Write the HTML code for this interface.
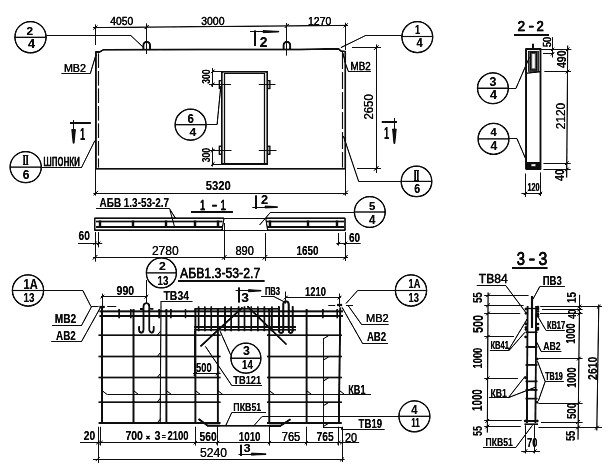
<!DOCTYPE html>
<html lang="ru"><head><meta charset="utf-8"><title>АБВ1.3-53-2.7</title>
<style>
html,body{margin:0;padding:0;background:#fff;}
body{width:614px;height:464px;overflow:hidden;}
svg{display:block;filter:grayscale(1);}
svg line,svg polyline,svg path,svg circle,svg rect{stroke:#111;stroke-linecap:butt;}
svg text{font-family:"Liberation Sans",sans-serif;fill:#111;stroke:#111;stroke-linejoin:round;}
</style></head><body>
<svg width="614" height="464" viewBox="0 0 614 464">
<defs><filter id="soft" x="0" y="0" width="614" height="464" filterUnits="userSpaceOnUse"><feGaussianBlur stdDeviation="0.42"/><feComponentTransfer><feFuncA type="linear" slope="1.35" intercept="0"/></feComponentTransfer></filter></defs>
<rect x="0" y="0" width="614" height="464" fill="#fff" stroke="none" style="stroke:none"/>
<g filter="url(#soft)">
<g id="elevation">
<line x1="93.0" y1="27.6" x2="348.0" y2="25.4" stroke-width="1.0"/>
<line x1="93.5" y1="29.6" x2="97.5" y2="25.6" stroke-width="1.0"/>
<line x1="144.6" y1="29.1" x2="148.6" y2="25.1" stroke-width="1.0"/>
<line x1="284.8" y1="27.9" x2="288.8" y2="23.9" stroke-width="1.0"/>
<line x1="343.6" y1="27.4" x2="347.6" y2="23.4" stroke-width="1.0"/>
<line x1="95.5" y1="24.5" x2="95.5" y2="45.0" stroke-width="1.0"/>
<line x1="146.5" y1="23.5" x2="146.5" y2="54.0" stroke-width="1.0"/>
<line x1="286.5" y1="23.0" x2="286.5" y2="55.5" stroke-width="1.0"/>
<line x1="345.5" y1="22.8" x2="345.5" y2="50.0" stroke-width="1.0"/>
<text x="110.3" y="25.4" font-size="11.7" textLength="23.0" lengthAdjust="spacingAndGlyphs" font-weight="normal" stroke-width="0.27">4050</text>
<text x="201.2" y="25.0" font-size="11.7" textLength="23.3" lengthAdjust="spacingAndGlyphs" font-weight="normal" stroke-width="0.26">3000</text>
<text x="308.0" y="24.6" font-size="11.6" textLength="23.4" lengthAdjust="spacingAndGlyphs" font-weight="normal" stroke-width="0.25">1270</text>
<polyline points="95.9,169.0 95.9,52.1 99.5,52.1 103.5,49.7 200.0,49.6 300.0,49.6 338.4,48.7 341.0,51.0 345.3,51.6 345.3,168.6" stroke-width="1.5" fill="none"/>
<line x1="95.0" y1="168.7" x2="346.0" y2="168.7" stroke-width="1.4"/>
<line x1="98.5" y1="53.6" x2="98.5" y2="167.5" stroke-width="1.1" stroke-dasharray="14.5 3"/>
<line x1="342.5" y1="52.0" x2="342.5" y2="167.5" stroke-width="1.1" stroke-dasharray="17 3"/>
<path d="M143.4,50 V45.3 A3.3,3.4 0 0 1 150.0,45.3 V50" stroke-width="1.7" fill="none"/>
<path d="M283.6,50 V45.3 A3.3,3.4 0 0 1 290.2,45.3 V50" stroke-width="1.7" fill="none"/>
<polyline points="221.8,164.0 221.8,71.7 267.3,71.7 267.3,164.0" stroke-width="1.4" fill="none"/>
<polyline points="224.5,164.0 224.5,73.5 264.5,73.5 264.5,164.0" stroke-width="1.2" fill="none"/>
<line x1="221.2" y1="164.0" x2="268.0" y2="164.0" stroke-width="1.4"/>
<rect x="219.3" y="80.6" width="2.2" height="8.0" stroke-width="1.1" fill="none"/>
<rect x="267.7" y="80.6" width="2.2" height="8.0" stroke-width="1.1" fill="none"/>
<rect x="219.3" y="146.2" width="2.2" height="8.0" stroke-width="1.1" fill="none"/>
<rect x="267.7" y="146.2" width="2.2" height="8.0" stroke-width="1.1" fill="none"/>
<line x1="209.0" y1="84.5" x2="231.0" y2="84.5" stroke-width="0.8"/>
<line x1="258.8" y1="84.5" x2="275.5" y2="84.5" stroke-width="0.8"/>
<line x1="209.0" y1="150.5" x2="231.5" y2="150.5" stroke-width="0.8"/>
<line x1="258.8" y1="150.5" x2="276.5" y2="150.5" stroke-width="0.8"/>
<line x1="212.5" y1="68.0" x2="212.5" y2="87.0" stroke-width="0.9"/>
<line x1="212.0" y1="71.5" x2="221.5" y2="71.5" stroke-width="0.8"/>
<line x1="211.1" y1="73.1" x2="214.5" y2="69.7" stroke-width="1.0"/>
<line x1="211.1" y1="86.2" x2="214.5" y2="82.8" stroke-width="1.0"/>
<text transform="translate(210.1,83.8) rotate(-90)" font-size="11.7" textLength="14.3" lengthAdjust="spacingAndGlyphs" font-weight="bold" stroke-width="0.00">300</text>
<line x1="212.5" y1="147.5" x2="212.5" y2="166.5" stroke-width="0.9"/>
<line x1="212.0" y1="164.5" x2="221.5" y2="164.5" stroke-width="0.8"/>
<line x1="211.1" y1="152.3" x2="214.5" y2="148.9" stroke-width="1.0"/>
<line x1="211.1" y1="165.7" x2="214.5" y2="162.3" stroke-width="1.0"/>
<text transform="translate(210.1,162.3) rotate(-90)" font-size="11.7" textLength="14.3" lengthAdjust="spacingAndGlyphs" font-weight="bold" stroke-width="0.00">300</text>
<line x1="95.5" y1="169.0" x2="95.5" y2="195.5" stroke-width="1.0"/>
<line x1="345.5" y1="169.0" x2="345.5" y2="195.5" stroke-width="1.0"/>
<line x1="93.5" y1="193.5" x2="348.0" y2="193.5" stroke-width="1.0"/>
<line x1="93.6" y1="195.3" x2="98.0" y2="190.9" stroke-width="1.0"/>
<line x1="343.4" y1="195.1" x2="347.8" y2="190.7" stroke-width="1.0"/>
<text x="205.7" y="190.3" font-size="13.4" textLength="25.1" lengthAdjust="spacingAndGlyphs" font-weight="bold" stroke-width="0.00">5320</text>
<line x1="376.5" y1="44.5" x2="376.5" y2="172.8" stroke-width="1.0"/>
<line x1="352.0" y1="47.5" x2="381.0" y2="47.5" stroke-width="0.9"/>
<line x1="357.0" y1="168.5" x2="381.0" y2="168.5" stroke-width="0.9"/>
<line x1="374.1" y1="49.8" x2="378.5" y2="45.4" stroke-width="1.0"/>
<line x1="374.1" y1="170.6" x2="378.5" y2="166.2" stroke-width="1.0"/>
<text transform="translate(372.9,119.6) rotate(-90)" font-size="12.6" textLength="25.4" lengthAdjust="spacingAndGlyphs" font-weight="normal" stroke-width="0.17">2650</text>
<line x1="70.2" y1="123.0" x2="90.7" y2="123.0" stroke-width="1.9"/>
<line x1="73.5" y1="120.2" x2="73.5" y2="130.5" stroke-width="1.0"/>
<path d="M71.7,129.5 L75.5,129.5 L74.1,143.2 L73.1,143.2 Z" stroke-width="0.5" fill="#111"/>
<text x="79.9" y="139.7" font-size="17.3" textLength="5.2" lengthAdjust="spacingAndGlyphs" font-weight="bold" stroke-width="0.00">1</text>
<line x1="381.8" y1="122.0" x2="397.0" y2="122.0" stroke-width="1.9"/>
<line x1="394.5" y1="118.2" x2="394.5" y2="130.0" stroke-width="1.0"/>
<path d="M392.5,129.0 L396.3,129.0 L394.9,143.5 L393.9,143.5 Z" stroke-width="0.5" fill="#111"/>
<text x="383.9" y="138.8" font-size="16.6" textLength="5.1" lengthAdjust="spacingAndGlyphs" font-weight="bold" stroke-width="0.00">1</text>
<line x1="255.0" y1="30.4" x2="255.0" y2="45.8" stroke-width="2.0"/>
<line x1="250.2" y1="31.5" x2="264.0" y2="31.5" stroke-width="0.9"/>
<path d="M263.0,30.5 L278.9,31.3 L278.9,32.0 L263.0,32.7 Z" stroke-width="0.5" fill="#111"/>
<text x="259.8" y="46.8" font-size="15.4" textLength="7.7" lengthAdjust="spacingAndGlyphs" font-weight="bold" stroke-width="0.00">2</text>
<circle cx="30.5" cy="37.2" r="15.6" stroke-width="1.25" fill="none"/>
<line x1="14.9" y1="37.2" x2="46.1" y2="37.2" stroke-width="1.1"/>
<text x="26.5" y="34.6" font-size="10.7" textLength="6.6" lengthAdjust="spacingAndGlyphs" font-weight="bold" stroke-width="0.00">2</text>
<text x="28.0" y="47.8" font-size="12.1" textLength="7.0" lengthAdjust="spacingAndGlyphs" font-weight="bold" stroke-width="0.00">4</text>
<polyline points="46.0,35.5 130.8,35.5 142.8,46.9" stroke-width="1.0" fill="none"/>
<circle cx="417.3" cy="37.1" r="15.4" stroke-width="1.25" fill="none"/>
<line x1="401.9" y1="36.5" x2="432.7" y2="36.5" stroke-width="1.1"/>
<text x="415.1" y="33.7" font-size="12.1" textLength="5.1" lengthAdjust="spacingAndGlyphs" font-weight="bold" stroke-width="0.00">1</text>
<text x="416.6" y="47.3" font-size="12.4" textLength="6.2" lengthAdjust="spacingAndGlyphs" font-weight="bold" stroke-width="0.00">4</text>
<polyline points="402.0,35.5 365.6,35.5 340.9,47.6" stroke-width="1.0" fill="none"/>
<circle cx="25.7" cy="167.1" r="15.6" stroke-width="1.25" fill="none"/>
<line x1="10.1" y1="167.1" x2="41.3" y2="167.1" stroke-width="1.1"/>
<text x="22.7" y="164.6" font-size="13.3" textLength="5.9" lengthAdjust="spacingAndGlyphs" font-weight="bold" stroke-width="0.00">II</text>
<text x="22.8" y="178.8" font-size="12.9" textLength="6.7" lengthAdjust="spacingAndGlyphs" font-weight="bold" stroke-width="0.00">6</text>
<line x1="22.9" y1="155.5" x2="28.3" y2="155.5" stroke-width="0.9"/>
<line x1="22.9" y1="164.5" x2="28.3" y2="164.5" stroke-width="0.9"/>
<polyline points="41.3,167.5 81.5,167.5 94.9,140.6" stroke-width="1.0" fill="none"/>
<text x="43.2" y="165.7" font-size="15.6" textLength="36.8" lengthAdjust="spacingAndGlyphs" font-weight="normal" stroke-width="0.35">шпонки</text>
<circle cx="416.5" cy="181.4" r="15.3" stroke-width="1.25" fill="none"/>
<line x1="401.2" y1="181.4" x2="431.8" y2="181.4" stroke-width="1.1"/>
<text x="413.8" y="179.7" font-size="13.0" textLength="5.4" lengthAdjust="spacingAndGlyphs" font-weight="bold" stroke-width="0.00">II</text>
<text x="414.2" y="192.6" font-size="12.9" textLength="5.9" lengthAdjust="spacingAndGlyphs" font-weight="bold" stroke-width="0.00">6</text>
<line x1="414.0" y1="170.5" x2="419.0" y2="170.5" stroke-width="0.9"/>
<line x1="414.0" y1="180.5" x2="419.0" y2="180.5" stroke-width="0.9"/>
<polyline points="401.2,181.5 358.7,181.5 343.4,136.0" stroke-width="1.0" fill="none"/>
<circle cx="190.6" cy="124.7" r="15.5" stroke-width="1.25" fill="none"/>
<line x1="175.1" y1="124.7" x2="206.1" y2="124.7" stroke-width="1.1"/>
<text x="187.5" y="122.7" font-size="12.9" textLength="6.4" lengthAdjust="spacingAndGlyphs" font-weight="bold" stroke-width="0.00">6</text>
<text x="189.4" y="136.2" font-size="11.7" textLength="6.8" lengthAdjust="spacingAndGlyphs" font-weight="bold" stroke-width="0.00">4</text>
<polyline points="206.0,124.5 217.1,124.5 220.8,86.0" stroke-width="1.0" fill="none"/>
<text x="63.9" y="71.5" font-size="11.1" textLength="22.1" lengthAdjust="spacingAndGlyphs" font-weight="normal" stroke-width="0.23">МВ2</text>
<polyline points="61.5,73.5 90.3,73.5 96.2,54.0" stroke-width="1.0" fill="none"/>
<text x="350.5" y="69.7" font-size="10.4" textLength="20.1" lengthAdjust="spacingAndGlyphs" font-weight="normal" stroke-width="0.32">МВ2</text>
<polyline points="370.8,71.5 348.4,71.5 345.6,64.0 342.9,53.0" stroke-width="1.0" fill="none"/>
</g>
<g id="sec11">
<text x="99.6" y="207.2" font-size="13.4" textLength="69.5" lengthAdjust="spacingAndGlyphs" font-weight="bold" stroke-width="0.00">АБВ 1.3-53-2.7</text>
<polyline points="96.0,208.5 169.4,208.5 175.7,218.7" stroke-width="1.0" fill="none"/>
<polyline points="170.0,210.3 174.5,226.7" stroke-width="0.8" fill="none"/>
<text y="209.5" font-size="15.0" font-weight="normal" stroke-width="0.6"><tspan x="199.9" textLength="5.3" lengthAdjust="spacingAndGlyphs">1</tspan> <tspan x="211.7" textLength="5.5" lengthAdjust="spacingAndGlyphs">-</tspan> <tspan x="220.4" textLength="5.4" lengthAdjust="spacingAndGlyphs">1</tspan></text>
<line x1="191.1" y1="212.0" x2="232.7" y2="212.0" stroke-width="2.1"/>
<line x1="256.0" y1="195.4" x2="256.0" y2="208.8" stroke-width="2.0"/>
<text x="260.9" y="204.0" font-size="11.9" textLength="7.1" lengthAdjust="spacingAndGlyphs" font-weight="bold" stroke-width="0.00">2</text>
<line x1="252.4" y1="207.5" x2="266.0" y2="207.5" stroke-width="0.9"/>
<path d="M265.0,205.9 L277.5,206.7 L277.5,207.4 L265.0,208.1 Z" stroke-width="0.5" fill="#111"/>
<line x1="94.5" y1="218.2" x2="224.0" y2="218.2" stroke-width="1.5"/>
<line x1="94.5" y1="230.2" x2="223.0" y2="230.2" stroke-width="1.5"/>
<line x1="266.0" y1="218.2" x2="345.2" y2="218.2" stroke-width="1.5"/>
<line x1="267.0" y1="230.2" x2="345.2" y2="230.2" stroke-width="1.5"/>
<line x1="223.0" y1="218.5" x2="267.0" y2="218.5" stroke-width="1.0"/>
<line x1="223.0" y1="230.5" x2="267.0" y2="230.5" stroke-width="1.0"/>
<line x1="94.7" y1="218.2" x2="94.7" y2="230.2" stroke-width="1.3"/>
<line x1="345.0" y1="218.2" x2="345.0" y2="230.2" stroke-width="1.3"/>
<line x1="96.0" y1="221.5" x2="222.5" y2="221.5" stroke-width="1.5"/>
<line x1="96.0" y1="227.0" x2="222.5" y2="227.0" stroke-width="1.5"/>
<line x1="267.0" y1="221.5" x2="344.0" y2="221.5" stroke-width="1.5"/>
<line x1="267.0" y1="227.0" x2="344.0" y2="227.0" stroke-width="1.5"/>
<line x1="100.0" y1="220.6" x2="100.0" y2="228.0" stroke-width="2.3"/>
<line x1="133.0" y1="220.6" x2="133.0" y2="228.0" stroke-width="2.3"/>
<line x1="166.0" y1="220.6" x2="166.0" y2="228.0" stroke-width="2.3"/>
<line x1="195.0" y1="220.6" x2="195.0" y2="228.0" stroke-width="2.3"/>
<line x1="218.0" y1="220.6" x2="218.0" y2="228.0" stroke-width="2.3"/>
<line x1="270.0" y1="220.6" x2="270.0" y2="228.0" stroke-width="2.3"/>
<line x1="308.0" y1="220.6" x2="308.0" y2="228.0" stroke-width="2.3"/>
<line x1="337.0" y1="220.6" x2="337.0" y2="228.0" stroke-width="2.3"/>
<line x1="224.0" y1="218.5" x2="222.0" y2="230.0" stroke-width="1.0"/>
<line x1="265.8" y1="218.5" x2="267.6" y2="230.0" stroke-width="1.0"/>
<circle cx="369.8" cy="212.0" r="15.4" stroke-width="1.25" fill="none"/>
<line x1="354.4" y1="212.0" x2="385.2" y2="212.0" stroke-width="1.1"/>
<text x="369.1" y="209.7" font-size="11.6" textLength="6.3" lengthAdjust="spacingAndGlyphs" font-weight="bold" stroke-width="0.00">5</text>
<text x="369.1" y="224.0" font-size="12.7" textLength="6.4" lengthAdjust="spacingAndGlyphs" font-weight="bold" stroke-width="0.00">4</text>
<polyline points="354.4,212.5 270.3,212.5 259.6,225.0" stroke-width="1.0" fill="none"/>
<line x1="78.0" y1="243.5" x2="102.2" y2="243.5" stroke-width="0.9"/>
<line x1="95.5" y1="232.0" x2="95.5" y2="261.5" stroke-width="1.0"/>
<line x1="98.5" y1="232.0" x2="98.5" y2="247.3" stroke-width="0.9"/>
<line x1="93.5" y1="244.8" x2="96.7" y2="241.6" stroke-width="1.0"/>
<line x1="97.1" y1="244.8" x2="100.3" y2="241.6" stroke-width="1.0"/>
<text x="78.5" y="240.2" font-size="12.1" textLength="11.3" lengthAdjust="spacingAndGlyphs" font-weight="bold" stroke-width="0.00">60</text>
<line x1="93.3" y1="257.5" x2="348.0" y2="257.5" stroke-width="1.0"/>
<line x1="224.5" y1="223.0" x2="224.5" y2="260.0" stroke-width="0.9"/>
<line x1="265.5" y1="233.0" x2="265.5" y2="260.8" stroke-width="0.9"/>
<line x1="92.9" y1="259.5" x2="97.3" y2="255.1" stroke-width="1.0"/>
<line x1="222.1" y1="259.5" x2="226.5" y2="255.1" stroke-width="1.0"/>
<line x1="262.8" y1="259.5" x2="267.2" y2="255.1" stroke-width="1.0"/>
<line x1="343.2" y1="259.5" x2="347.6" y2="255.1" stroke-width="1.0"/>
<text x="151.9" y="255.4" font-size="12.1" textLength="26.8" lengthAdjust="spacingAndGlyphs" font-weight="normal" stroke-width="0.12">2780</text>
<text x="235.4" y="255.3" font-size="12.0" textLength="18.4" lengthAdjust="spacingAndGlyphs" font-weight="normal" stroke-width="0.21">890</text>
<text x="296.5" y="255.3" font-size="12.0" textLength="22.0" lengthAdjust="spacingAndGlyphs" font-weight="bold" stroke-width="0.00">1650</text>
<line x1="336.4" y1="243.5" x2="360.6" y2="243.5" stroke-width="0.9"/>
<line x1="338.5" y1="233.0" x2="338.5" y2="245.5" stroke-width="0.9"/>
<line x1="345.5" y1="232.0" x2="345.5" y2="260.8" stroke-width="1.0"/>
<line x1="337.0" y1="245.0" x2="340.2" y2="241.8" stroke-width="1.0"/>
<line x1="343.8" y1="245.0" x2="347.0" y2="241.8" stroke-width="1.0"/>
<text x="349.0" y="242.4" font-size="12.0" textLength="11.2" lengthAdjust="spacingAndGlyphs" font-weight="bold" stroke-width="0.00">60</text>
</g>
<g id="plan">
<line x1="99.5" y1="311.3" x2="343.0" y2="311.3" stroke-width="1.7"/>
<line x1="99.5" y1="316.2" x2="343.0" y2="316.2" stroke-width="1.7"/>
<line x1="98.6" y1="335.3" x2="220.5" y2="335.3" stroke-width="1.5"/>
<line x1="267.0" y1="335.3" x2="341.8" y2="335.3" stroke-width="1.5"/>
<line x1="98.6" y1="356.6" x2="220.5" y2="356.6" stroke-width="1.5"/>
<line x1="267.0" y1="356.6" x2="341.8" y2="356.6" stroke-width="1.5"/>
<line x1="98.6" y1="377.5" x2="220.5" y2="377.5" stroke-width="1.5"/>
<line x1="267.0" y1="377.5" x2="341.8" y2="377.5" stroke-width="1.5"/>
<line x1="98.6" y1="402.2" x2="220.5" y2="402.2" stroke-width="1.5"/>
<line x1="267.0" y1="402.2" x2="341.8" y2="402.2" stroke-width="1.5"/>
<line x1="98.6" y1="423.0" x2="220.5" y2="423.0" stroke-width="1.5"/>
<line x1="267.0" y1="423.0" x2="341.8" y2="423.0" stroke-width="1.5"/>
<line x1="102.1" y1="307.4" x2="102.1" y2="424.0" stroke-width="1.7"/>
<line x1="133.5" y1="309.0" x2="133.5" y2="424.0" stroke-width="1.7"/>
<line x1="166.4" y1="309.0" x2="166.4" y2="424.0" stroke-width="1.7"/>
<line x1="195.4" y1="309.0" x2="195.4" y2="424.0" stroke-width="1.7"/>
<line x1="217.8" y1="309.0" x2="217.8" y2="424.0" stroke-width="1.7"/>
<line x1="269.3" y1="309.0" x2="269.3" y2="424.0" stroke-width="1.7"/>
<line x1="306.6" y1="309.0" x2="306.6" y2="424.0" stroke-width="1.7"/>
<line x1="340.3" y1="307.4" x2="338.8" y2="424.0" stroke-width="1.7"/>
<line x1="119.1" y1="309.0" x2="119.1" y2="318.2" stroke-width="1.3"/>
<line x1="130.8" y1="309.0" x2="130.8" y2="318.2" stroke-width="1.3"/>
<line x1="159.1" y1="309.0" x2="159.1" y2="318.2" stroke-width="1.3"/>
<line x1="170.9" y1="309.0" x2="170.9" y2="318.2" stroke-width="1.3"/>
<line x1="185.5" y1="309.0" x2="185.5" y2="318.2" stroke-width="1.3"/>
<line x1="322.9" y1="309.0" x2="322.9" y2="318.2" stroke-width="1.3"/>
<line x1="337.2" y1="309.0" x2="337.2" y2="318.2" stroke-width="1.3"/>
<line x1="198.6" y1="306.4" x2="198.6" y2="331.2" stroke-width="1.5"/>
<line x1="204.8" y1="306.4" x2="204.8" y2="331.2" stroke-width="1.5"/>
<line x1="211.3" y1="306.4" x2="211.3" y2="331.2" stroke-width="1.5"/>
<line x1="225.0" y1="306.4" x2="225.0" y2="331.2" stroke-width="1.5"/>
<line x1="231.2" y1="306.4" x2="231.2" y2="331.2" stroke-width="1.5"/>
<line x1="238.6" y1="306.4" x2="238.6" y2="331.2" stroke-width="1.5"/>
<line x1="244.5" y1="306.4" x2="244.5" y2="331.2" stroke-width="1.5"/>
<line x1="251.3" y1="306.4" x2="251.3" y2="331.2" stroke-width="1.5"/>
<line x1="257.8" y1="306.4" x2="257.8" y2="331.2" stroke-width="1.5"/>
<line x1="264.4" y1="306.4" x2="264.4" y2="331.2" stroke-width="1.5"/>
<line x1="271.9" y1="306.4" x2="271.9" y2="331.2" stroke-width="1.5"/>
<line x1="194.3" y1="308.9" x2="279.0" y2="308.9" stroke-width="1.4"/>
<line x1="194.3" y1="326.9" x2="296.0" y2="326.9" stroke-width="1.5"/>
<line x1="194.3" y1="329.8" x2="296.0" y2="329.8" stroke-width="1.4"/>
<line x1="200.5" y1="346.4" x2="242.5" y2="307.4" stroke-width="1.5"/>
<line x1="247.4" y1="306.4" x2="286.5" y2="344.5" stroke-width="1.5"/>
<path d="M143.5,329.6 V306.3 A2.9,3 0 0 1 149.3,306.3 V329.6" stroke-width="1.6" fill="none"/>
<path d="M143.5,329.4 A2.2,3.2 0 0 1 139.1,329.4 V326.3" stroke-width="1.6" fill="none"/>
<path d="M149.3,329.4 A2.2,3.2 0 0 0 153.7,329.4 V326.3" stroke-width="1.6" fill="none"/>
<line x1="140.0" y1="309.0" x2="143.0" y2="309.0" stroke-width="1.6"/>
<line x1="150.3" y1="308.8" x2="153.3" y2="308.8" stroke-width="1.6"/>
<path d="M283.3,330.2 V304.4 A2.7,3 0 0 1 288.7,304.4 V330.2" stroke-width="1.8" fill="none"/>
<path d="M283.3,330 A2.2,3 0 0 1 278.9,330 V306.2" stroke-width="1.7" fill="none"/>
<path d="M288.7,330 A2.0,3 0 0 0 292.7,330 V306.2" stroke-width="1.7" fill="none"/>
<line x1="107.4" y1="394.5" x2="371.0" y2="394.5" stroke-width="0.9"/>
<line x1="102.1" y1="390.6" x2="107.1" y2="394.5" stroke-width="0.9"/>
<line x1="133.5" y1="390.6" x2="138.5" y2="394.5" stroke-width="0.9"/>
<line x1="166.4" y1="390.6" x2="171.4" y2="394.5" stroke-width="0.9"/>
<line x1="195.4" y1="390.6" x2="200.4" y2="394.5" stroke-width="0.9"/>
<line x1="217.8" y1="390.6" x2="222.8" y2="394.5" stroke-width="0.9"/>
<line x1="269.3" y1="390.6" x2="274.3" y2="394.5" stroke-width="0.9"/>
<line x1="306.6" y1="390.6" x2="311.6" y2="394.5" stroke-width="0.9"/>
<line x1="339.6" y1="390.6" x2="344.6" y2="394.5" stroke-width="0.9"/>
<line x1="161.0" y1="301.1" x2="160.2" y2="423.0" stroke-width="0.9"/>
<line x1="160.6" y1="331.1" x2="157.6" y2="334.8" stroke-width="0.9"/>
<line x1="160.6" y1="352.4" x2="157.6" y2="356.1" stroke-width="0.9"/>
<line x1="160.6" y1="373.3" x2="157.6" y2="377.0" stroke-width="0.9"/>
<line x1="160.6" y1="398.0" x2="157.6" y2="401.7" stroke-width="0.9"/>
<line x1="160.6" y1="418.8" x2="157.6" y2="422.5" stroke-width="0.9"/>
<line x1="323.5" y1="338.6" x2="323.5" y2="427.7" stroke-width="0.9"/>
<line x1="323.2" y1="338.9" x2="328.5" y2="335.7" stroke-width="0.9"/>
<line x1="323.2" y1="360.2" x2="328.5" y2="357.0" stroke-width="0.9"/>
<line x1="323.2" y1="381.1" x2="328.5" y2="377.9" stroke-width="0.9"/>
<line x1="323.2" y1="405.8" x2="328.5" y2="402.6" stroke-width="0.9"/>
<line x1="323.2" y1="426.6" x2="328.5" y2="423.4" stroke-width="0.9"/>
<line x1="194.5" y1="331.0" x2="194.5" y2="376.0" stroke-width="0.8"/>
<polyline points="198.6,419.0 207.4,425.5 220.0,425.5" stroke-width="1.7" fill="none"/>
<polyline points="290.5,419.3 280.6,425.6 268.9,425.6" stroke-width="1.7" fill="none"/>
<line x1="207.0" y1="425.7" x2="281.0" y2="425.7" stroke-width="1.4"/>
<line x1="90.7" y1="306.5" x2="98.5" y2="306.5" stroke-width="1.0"/>
<line x1="99.5" y1="307.0" x2="104.6" y2="307.0" stroke-width="2.2"/>
<line x1="107.4" y1="306.5" x2="116.2" y2="306.5" stroke-width="1.0"/>
<line x1="328.4" y1="305.5" x2="335.2" y2="305.5" stroke-width="1.0"/>
<line x1="337.2" y1="305.0" x2="342.1" y2="305.0" stroke-width="2.2"/>
<line x1="346.0" y1="305.5" x2="352.8" y2="305.5" stroke-width="1.0"/>
<line x1="101.1" y1="296.5" x2="147.4" y2="296.5" stroke-width="1.0"/>
<line x1="102.5" y1="293.7" x2="102.5" y2="307.4" stroke-width="1.0"/>
<line x1="146.5" y1="287.0" x2="146.5" y2="303.0" stroke-width="1.0"/>
<line x1="100.5" y1="298.4" x2="104.1" y2="294.8" stroke-width="1.0"/>
<line x1="144.6" y1="298.4" x2="148.2" y2="294.8" stroke-width="1.0"/>
<text x="116.6" y="295.1" font-size="12.4" textLength="17.6" lengthAdjust="spacingAndGlyphs" font-weight="bold" stroke-width="0.00">990</text>
<line x1="285.4" y1="297.5" x2="340.6" y2="297.5" stroke-width="1.0"/>
<line x1="285.5" y1="291.7" x2="285.5" y2="303.5" stroke-width="1.0"/>
<line x1="339.5" y1="293.7" x2="339.5" y2="307.0" stroke-width="1.0"/>
<line x1="284.0" y1="299.4" x2="287.6" y2="295.8" stroke-width="1.0"/>
<line x1="337.8" y1="299.4" x2="341.4" y2="295.8" stroke-width="1.0"/>
<text x="305.0" y="295.8" font-size="12.6" textLength="21.0" lengthAdjust="spacingAndGlyphs" font-weight="bold" stroke-width="0.00">1210</text>
<text x="180.0" y="277.6" font-size="15.1" textLength="80.2" lengthAdjust="spacingAndGlyphs" font-weight="normal" stroke-width="0.40">АБВ1.3-53-2.7</text>
<line x1="178.1" y1="281.0" x2="264.5" y2="281.0" stroke-width="2.2"/>
<text x="163.5" y="299.9" font-size="12.3" textLength="25.5" lengthAdjust="spacingAndGlyphs" font-weight="bold" stroke-width="0.00">ТВ34</text>
<line x1="161.0" y1="301.5" x2="192.4" y2="301.5" stroke-width="1.0"/>
<text x="264.9" y="294.5" font-size="11.6" textLength="15.2" lengthAdjust="spacingAndGlyphs" font-weight="bold" stroke-width="0.09">ПВ3</text>
<polyline points="261.1,296.5 273.8,296.5 283.6,301.5" stroke-width="1.0" fill="none"/>
<line x1="239.0" y1="287.4" x2="239.0" y2="302.5" stroke-width="2.0"/>
<text x="241.3" y="301.5" font-size="13.4" textLength="7.7" lengthAdjust="spacingAndGlyphs" font-weight="bold" stroke-width="0.00">3</text>
<line x1="235.7" y1="290.5" x2="249.4" y2="290.5" stroke-width="0.9"/>
<path d="M248.4,289.6 L261.1,290.4 L261.1,291.1 L248.4,291.8 Z" stroke-width="0.5" fill="#111"/>
<text x="196.1" y="371.7" font-size="11.9" textLength="15.6" lengthAdjust="spacingAndGlyphs" font-weight="bold" stroke-width="0.00">500</text>
<line x1="193.0" y1="373.5" x2="220.5" y2="373.5" stroke-width="1.0"/>
<line x1="193.6" y1="375.3" x2="197.2" y2="371.7" stroke-width="1.0"/>
<line x1="216.0" y1="375.3" x2="219.6" y2="371.7" stroke-width="1.0"/>
<text x="233.3" y="384.3" font-size="11.1" textLength="27.9" lengthAdjust="spacingAndGlyphs" font-weight="bold" stroke-width="0.00">ТВ121</text>
<polyline points="262.0,385.5 231.8,385.5 205.4,346.4" stroke-width="1.0" fill="none"/>
<text x="233.3" y="411.1" font-size="11.1" textLength="27.9" lengthAdjust="spacingAndGlyphs" font-weight="bold" stroke-width="0.00">ПКВ51</text>
<polyline points="266.0,412.5 231.8,412.5 225.9,425.2" stroke-width="1.0" fill="none"/>
<polyline points="254.3,425.2 262.0,416.5 399.0,416.5" stroke-width="0.9" fill="none"/>
<text x="348.3" y="393.6" font-size="12.4" textLength="17.2" lengthAdjust="spacingAndGlyphs" font-weight="bold" stroke-width="0.00">КВ1</text>
<text x="358.6" y="428.1" font-size="12.3" textLength="23.5" lengthAdjust="spacingAndGlyphs" font-weight="bold" stroke-width="0.00">ТВ19</text>
<polyline points="323.2,427.5 341.5,427.5 341.6,429.5 384.6,429.5" stroke-width="0.9" fill="none"/>
<circle cx="28.0" cy="290.5" r="15.6" stroke-width="1.25" fill="none"/>
<line x1="12.4" y1="290.5" x2="43.6" y2="290.5" stroke-width="1.1"/>
<text x="23.5" y="288.6" font-size="14.6" textLength="14.2" lengthAdjust="spacingAndGlyphs" font-weight="bold" stroke-width="0.00">1А</text>
<text x="23.6" y="301.7" font-size="12.7" textLength="11.0" lengthAdjust="spacingAndGlyphs" font-weight="bold" stroke-width="0.00">13</text>
<polyline points="43.6,290.5 82.8,290.5 90.7,306.0" stroke-width="1.0" fill="none"/>
<text x="54.7" y="323.4" font-size="12.3" textLength="21.5" lengthAdjust="spacingAndGlyphs" font-weight="bold" stroke-width="0.00">МВ2</text>
<polyline points="52.2,325.5 81.5,325.5 91.5,306.8" stroke-width="1.0" fill="none"/>
<text x="56.1" y="339.8" font-size="13.1" textLength="19.7" lengthAdjust="spacingAndGlyphs" font-weight="bold" stroke-width="0.00">АВ2</text>
<polyline points="51.4,341.5 81.5,341.5 100.5,307.4" stroke-width="1.0" fill="none"/>
<circle cx="411.0" cy="290.5" r="15.6" stroke-width="1.25" fill="none"/>
<line x1="395.4" y1="290.5" x2="426.6" y2="290.5" stroke-width="1.1"/>
<text x="408.6" y="288.4" font-size="13.0" textLength="11.8" lengthAdjust="spacingAndGlyphs" font-weight="bold" stroke-width="0.00">1А</text>
<text x="408.6" y="301.7" font-size="12.1" textLength="10.4" lengthAdjust="spacingAndGlyphs" font-weight="bold" stroke-width="0.00">13</text>
<polyline points="395.4,290.5 357.7,290.5 346.0,303.5" stroke-width="1.0" fill="none"/>
<text x="365.9" y="322.3" font-size="11.6" textLength="22.9" lengthAdjust="spacingAndGlyphs" font-weight="normal" stroke-width="0.20">МВ2</text>
<polyline points="388.5,324.5 361.6,324.5 348.0,305.4" stroke-width="1.0" fill="none"/>
<text x="366.9" y="340.5" font-size="12.9" textLength="19.3" lengthAdjust="spacingAndGlyphs" font-weight="bold" stroke-width="0.00">АВ2</text>
<polyline points="388.0,343.5 362.6,343.5 342.1,307.4" stroke-width="1.0" fill="none"/>
<circle cx="161.4" cy="272.9" r="15.0" stroke-width="1.25" fill="none"/>
<line x1="146.4" y1="272.9" x2="176.4" y2="272.9" stroke-width="1.1"/>
<text x="158.9" y="270.2" font-size="11.1" textLength="6.8" lengthAdjust="spacingAndGlyphs" font-weight="bold" stroke-width="0.00">2</text>
<text x="157.5" y="284.5" font-size="12.7" textLength="10.8" lengthAdjust="spacingAndGlyphs" font-weight="bold" stroke-width="0.00">13</text>
<line x1="146.5" y1="280.0" x2="146.5" y2="296.0" stroke-width="1.0"/>
<circle cx="245.9" cy="358.2" r="15.0" stroke-width="1.25" fill="none"/>
<line x1="230.9" y1="358.2" x2="260.9" y2="358.2" stroke-width="1.1"/>
<text x="243.0" y="355.2" font-size="12.3" textLength="6.9" lengthAdjust="spacingAndGlyphs" font-weight="bold" stroke-width="0.00">3</text>
<text x="242.0" y="368.9" font-size="12.0" textLength="10.8" lengthAdjust="spacingAndGlyphs" font-weight="bold" stroke-width="0.00">14</text>
<polyline points="230.8,355.2 220.1,331.2" stroke-width="1.0" fill="none"/>
<circle cx="414.4" cy="416.3" r="15.5" stroke-width="1.25" fill="none"/>
<line x1="398.9" y1="416.3" x2="429.9" y2="416.3" stroke-width="1.1"/>
<text x="411.2" y="414.3" font-size="13.0" textLength="6.2" lengthAdjust="spacingAndGlyphs" font-weight="bold" stroke-width="0.00">4</text>
<text x="411.2" y="426.7" font-size="11.9" textLength="8.7" lengthAdjust="spacingAndGlyphs" font-weight="bold" stroke-width="0.00">11</text>
<line x1="80.0" y1="442.5" x2="359.1" y2="442.5" stroke-width="1.0"/>
<line x1="93.0" y1="459.5" x2="344.5" y2="459.5" stroke-width="1.0"/>
<line x1="100.5" y1="426.8" x2="100.5" y2="445.5" stroke-width="0.9"/>
<line x1="195.5" y1="426.8" x2="195.5" y2="445.5" stroke-width="0.9"/>
<line x1="217.5" y1="426.8" x2="217.5" y2="445.5" stroke-width="0.9"/>
<line x1="269.5" y1="426.8" x2="269.5" y2="445.5" stroke-width="0.9"/>
<line x1="306.5" y1="426.8" x2="306.5" y2="445.5" stroke-width="0.9"/>
<line x1="338.5" y1="426.8" x2="338.5" y2="445.5" stroke-width="0.9"/>
<line x1="98.5" y1="426.8" x2="98.5" y2="463.0" stroke-width="0.9"/>
<line x1="342.5" y1="426.8" x2="342.5" y2="462.0" stroke-width="0.9"/>
<line x1="96.4" y1="444.2" x2="99.6" y2="441.0" stroke-width="1.0"/>
<line x1="99.3" y1="444.2" x2="102.5" y2="441.0" stroke-width="1.0"/>
<line x1="193.7" y1="444.2" x2="196.9" y2="441.0" stroke-width="1.0"/>
<line x1="216.1" y1="444.2" x2="219.3" y2="441.0" stroke-width="1.0"/>
<line x1="267.9" y1="444.2" x2="271.1" y2="441.0" stroke-width="1.0"/>
<line x1="304.8" y1="444.2" x2="308.0" y2="441.0" stroke-width="1.0"/>
<line x1="337.2" y1="444.2" x2="340.4" y2="441.0" stroke-width="1.0"/>
<line x1="340.2" y1="444.2" x2="343.4" y2="441.0" stroke-width="1.0"/>
<line x1="96.0" y1="460.8" x2="99.6" y2="457.2" stroke-width="1.0"/>
<line x1="340.2" y1="461.2" x2="343.8" y2="457.6" stroke-width="1.0"/>
<text x="83.8" y="439.9" font-size="12.3" textLength="11.4" lengthAdjust="spacingAndGlyphs" font-weight="bold" stroke-width="0.00">20</text>
<text x="125.4" y="440.4" font-size="12.7" textLength="17.6" lengthAdjust="spacingAndGlyphs" font-weight="bold" stroke-width="0.00">700</text>
<text x="145.9" y="440.0" font-size="7.9" textLength="4.0" lengthAdjust="spacingAndGlyphs" font-weight="normal" stroke-width="0.58">×</text>
<text x="154.5" y="440.4" font-size="12.7" textLength="6.0" lengthAdjust="spacingAndGlyphs" font-weight="bold" stroke-width="0.00">3</text>
<text x="161.8" y="440.0" font-size="9.3" textLength="4.0" lengthAdjust="spacingAndGlyphs" font-weight="bold" stroke-width="0.19">=</text>
<text x="167.5" y="440.4" font-size="12.7" textLength="21.1" lengthAdjust="spacingAndGlyphs" font-weight="bold" stroke-width="0.00">2100</text>
<text x="199.6" y="440.8" font-size="12.3" textLength="17.1" lengthAdjust="spacingAndGlyphs" font-weight="bold" stroke-width="0.00">560</text>
<text x="238.7" y="440.8" font-size="12.3" textLength="21.9" lengthAdjust="spacingAndGlyphs" font-weight="bold" stroke-width="0.00">1010</text>
<text x="281.8" y="440.8" font-size="12.0" textLength="18.5" lengthAdjust="spacingAndGlyphs" font-weight="normal" stroke-width="0.20">765</text>
<text x="316.6" y="440.8" font-size="12.3" textLength="17.1" lengthAdjust="spacingAndGlyphs" font-weight="bold" stroke-width="0.00">765</text>
<text x="345.0" y="441.8" font-size="12.3" textLength="12.1" lengthAdjust="spacingAndGlyphs" font-weight="normal" stroke-width="0.22">20</text>
<text x="200.0" y="457.4" font-size="12.3" textLength="27.0" lengthAdjust="spacingAndGlyphs" font-weight="normal" stroke-width="0.11">5240</text>
<line x1="241.0" y1="444.7" x2="241.0" y2="456.0" stroke-width="2.0"/>
<text x="243.7" y="451.9" font-size="10.7" textLength="6.8" lengthAdjust="spacingAndGlyphs" font-weight="bold" stroke-width="0.00">3</text>
<line x1="238.6" y1="454.5" x2="252.3" y2="454.5" stroke-width="0.9"/>
<path d="M251.3,453.0 L266.0,453.8 L266.0,454.5 L251.3,455.2 Z" stroke-width="0.5" fill="#111"/>
</g>
<g id="sec22">
<text y="31.0" font-size="14.3" font-weight="normal" stroke-width="0.55"><tspan x="517.6" textLength="7.6" lengthAdjust="spacingAndGlyphs">2</tspan> <tspan x="528.6" textLength="5.5" lengthAdjust="spacingAndGlyphs">-</tspan> <tspan x="536.6" textLength="7.3" lengthAdjust="spacingAndGlyphs">2</tspan></text>
<line x1="514.0" y1="35.0" x2="548.9" y2="35.0" stroke-width="2.1"/>
<polyline points="526.1,169.5 526.1,49.1 540.5,49.1 540.5,169.5" stroke-width="1.6" fill="none"/>
<line x1="533.0" y1="43.7" x2="533.0" y2="49.1" stroke-width="1.7"/>
<rect x="528.6" y="51.3" width="10.0" height="19.9" stroke-width="0.7" fill="#8a8a8a"/>
<rect x="531.9" y="53.6" width="3.2" height="15.2" stroke-width="0.5" fill="#fff"/>
<rect x="530.4" y="52.3" width="6.2" height="17.7" stroke-width="1.6" fill="none"/>
<line x1="526.1" y1="73.2" x2="540.5" y2="71.6" stroke-width="1.1"/>
<rect x="526.6" y="162.7" width="13.6" height="6.5" stroke-width="1.0" fill="#111"/>
<rect x="531.2" y="164.0" width="4.4" height="2.2" stroke-width="0.3" fill="#f4f4f4"/>
<line x1="552.5" y1="37.3" x2="552.5" y2="57.4" stroke-width="0.9"/>
<line x1="551.0" y1="51.0" x2="554.2" y2="47.8" stroke-width="1.0"/>
<line x1="551.0" y1="55.4" x2="554.2" y2="52.2" stroke-width="1.0"/>
<line x1="543.0" y1="53.5" x2="553.7" y2="53.5" stroke-width="0.8"/>
<text transform="translate(550.8,47.0) rotate(-90)" font-size="10.4" textLength="10.1" lengthAdjust="spacingAndGlyphs" font-weight="normal" stroke-width="0.38">50</text>
<line x1="567.7" y1="45.6" x2="566.7" y2="177.5" stroke-width="1.0"/>
<line x1="540.5" y1="49.5" x2="571.3" y2="49.5" stroke-width="0.9"/>
<line x1="544.4" y1="71.5" x2="571.0" y2="71.5" stroke-width="0.9"/>
<line x1="543.5" y1="163.5" x2="570.6" y2="163.5" stroke-width="0.9"/>
<line x1="543.5" y1="169.5" x2="570.6" y2="169.5" stroke-width="0.9"/>
<line x1="565.9" y1="51.2" x2="569.5" y2="47.6" stroke-width="1.0"/>
<line x1="565.7" y1="73.4" x2="569.3" y2="69.8" stroke-width="1.0"/>
<line x1="565.0" y1="165.0" x2="568.6" y2="161.4" stroke-width="1.0"/>
<line x1="565.0" y1="171.3" x2="568.6" y2="167.7" stroke-width="1.0"/>
<text transform="translate(565.5,68.1) rotate(-90)" font-size="12.3" textLength="17.6" lengthAdjust="spacingAndGlyphs" font-weight="bold" stroke-width="0.00">490</text>
<text transform="translate(565.2,129.2) rotate(-90)" font-size="12.9" textLength="26.4" lengthAdjust="spacingAndGlyphs" font-weight="normal" stroke-width="0.13">2120</text>
<text transform="translate(564.0,180.9) rotate(-90)" font-size="13.3" textLength="11.8" lengthAdjust="spacingAndGlyphs" font-weight="bold" stroke-width="0.00">40</text>
<line x1="525.5" y1="173.6" x2="525.5" y2="197.0" stroke-width="0.9"/>
<line x1="540.5" y1="172.5" x2="540.5" y2="196.0" stroke-width="0.9"/>
<line x1="521.5" y1="193.5" x2="542.0" y2="193.5" stroke-width="1.0"/>
<line x1="523.8" y1="195.0" x2="527.0" y2="191.8" stroke-width="1.0"/>
<line x1="538.8" y1="195.0" x2="542.0" y2="191.8" stroke-width="1.0"/>
<text x="527.4" y="190.7" font-size="11.1" textLength="12.2" lengthAdjust="spacingAndGlyphs" font-weight="bold" stroke-width="0.13">120</text>
<circle cx="492.9" cy="88.2" r="15.4" stroke-width="1.25" fill="none"/>
<line x1="477.5" y1="88.2" x2="508.3" y2="88.2" stroke-width="1.1"/>
<text x="489.6" y="85.8" font-size="12.0" textLength="6.9" lengthAdjust="spacingAndGlyphs" font-weight="bold" stroke-width="0.00">3</text>
<text x="490.0" y="98.9" font-size="12.0" textLength="6.9" lengthAdjust="spacingAndGlyphs" font-weight="bold" stroke-width="0.00">4</text>
<polyline points="508.3,88.5 515.9,88.5 529.6,56.9" stroke-width="1.0" fill="none"/>
<circle cx="493.5" cy="138.9" r="15.4" stroke-width="1.25" fill="none"/>
<line x1="478.1" y1="138.9" x2="508.9" y2="138.9" stroke-width="1.1"/>
<text x="490.6" y="135.8" font-size="11.7" textLength="6.2" lengthAdjust="spacingAndGlyphs" font-weight="bold" stroke-width="0.00">4</text>
<text x="490.6" y="150.0" font-size="11.9" textLength="6.8" lengthAdjust="spacingAndGlyphs" font-weight="bold" stroke-width="0.00">4</text>
<polyline points="508.9,138.5 516.9,138.5 526.1,159.8" stroke-width="1.0" fill="none"/>
</g>
<g id="sec33">
<text y="264.9" font-size="17.9" font-weight="normal" stroke-width="0.55"><tspan x="516.7" textLength="8.2" lengthAdjust="spacingAndGlyphs">3</tspan> <tspan x="528.8" textLength="6.4" lengthAdjust="spacingAndGlyphs">-</tspan> <tspan x="538.6" textLength="8.8" lengthAdjust="spacingAndGlyphs">3</tspan></text>
<line x1="512.2" y1="268.0" x2="547.4" y2="268.0" stroke-width="2.1"/>
<line x1="527.6" y1="306.0" x2="526.9" y2="423.0" stroke-width="1.6"/>
<line x1="536.2" y1="306.0" x2="535.4" y2="423.0" stroke-width="1.6"/>
<line x1="532.0" y1="296.0" x2="532.0" y2="328.0" stroke-width="2.1"/>
<line x1="525.5" y1="308.5" x2="538.0" y2="308.5" stroke-width="1.2"/>
<line x1="525.6" y1="332.3" x2="537.4" y2="332.3" stroke-width="1.5"/>
<line x1="525.6" y1="347.0" x2="537.4" y2="347.0" stroke-width="1.5"/>
<line x1="525.6" y1="364.9" x2="537.4" y2="364.9" stroke-width="1.5"/>
<line x1="525.6" y1="381.4" x2="537.4" y2="381.4" stroke-width="1.5"/>
<line x1="525.6" y1="389.9" x2="537.4" y2="389.9" stroke-width="1.5"/>
<line x1="525.6" y1="398.6" x2="537.4" y2="398.6" stroke-width="1.5"/>
<line x1="524.5" y1="421.0" x2="538.0" y2="421.0" stroke-width="2.0"/>
<line x1="524.5" y1="424.2" x2="538.0" y2="424.2" stroke-width="1.4"/>
<circle cx="537.3" cy="359" r="1.0" fill="#111" stroke-width="0.5"/>
<circle cx="525.4" cy="377.7" r="1.0" fill="#111" stroke-width="0.5"/>
<circle cx="537.1" cy="402.3" r="1.0" fill="#111" stroke-width="0.5"/>
<circle cx="525.3" cy="420.9" r="1.0" fill="#111" stroke-width="0.5"/>
<circle cx="537.3" cy="420.9" r="1.0" fill="#111" stroke-width="0.5"/>
<circle cx="525.9" cy="309" r="1.0" fill="#111" stroke-width="0.5"/>
<circle cx="525.9" cy="313.3" r="1.0" fill="#111" stroke-width="0.5"/>
<circle cx="525.9" cy="324" r="1.0" fill="#111" stroke-width="0.5"/>
<circle cx="525.9" cy="327.5" r="1.0" fill="#111" stroke-width="0.5"/>
<circle cx="525.6" cy="336.9" r="1.0" fill="#111" stroke-width="0.5"/>
<circle cx="538" cy="307" r="1.0" fill="#111" stroke-width="0.5"/>
<circle cx="538" cy="309" r="1.0" fill="#111" stroke-width="0.5"/>
<circle cx="538" cy="311.4" r="1.0" fill="#111" stroke-width="0.5"/>
<circle cx="538" cy="314.3" r="1.0" fill="#111" stroke-width="0.5"/>
<circle cx="538" cy="316.3" r="1.0" fill="#111" stroke-width="0.5"/>
<circle cx="538" cy="324" r="1.0" fill="#111" stroke-width="0.5"/>
<circle cx="538" cy="328" r="1.0" fill="#111" stroke-width="0.5"/>
<circle cx="537.8" cy="329.4" r="1.0" fill="#111" stroke-width="0.5"/>
<circle cx="525.9" cy="329.4" r="1.0" fill="#111" stroke-width="0.5"/>
<line x1="488.1" y1="292.5" x2="487.3" y2="432.6" stroke-width="1.0"/>
<line x1="486.3" y1="297.1" x2="489.9" y2="293.5" stroke-width="1.0"/>
<line x1="484.3" y1="295.5" x2="528.5" y2="295.5" stroke-width="0.9"/>
<line x1="486.2" y1="307.1" x2="489.8" y2="303.5" stroke-width="1.0"/>
<line x1="484.3" y1="305.5" x2="523.5" y2="305.5" stroke-width="0.9"/>
<line x1="486.2" y1="315.3" x2="489.8" y2="311.7" stroke-width="1.0"/>
<line x1="484.3" y1="313.5" x2="520.2" y2="313.5" stroke-width="0.9"/>
<line x1="486.0" y1="338.5" x2="489.6" y2="334.9" stroke-width="1.0"/>
<line x1="484.3" y1="336.5" x2="514.0" y2="336.5" stroke-width="0.9"/>
<line x1="485.8" y1="380.2" x2="489.4" y2="376.6" stroke-width="1.0"/>
<line x1="484.3" y1="378.5" x2="517.8" y2="378.5" stroke-width="0.9"/>
<line x1="485.5" y1="422.7" x2="489.1" y2="419.1" stroke-width="1.0"/>
<line x1="484.3" y1="420.5" x2="521.7" y2="420.5" stroke-width="0.9"/>
<line x1="485.5" y1="428.3" x2="489.1" y2="424.7" stroke-width="1.0"/>
<line x1="484.3" y1="426.5" x2="520.7" y2="426.5" stroke-width="0.9"/>
<text transform="translate(482.2,303.1) rotate(-90)" font-size="13.3" textLength="10.8" lengthAdjust="spacingAndGlyphs" font-weight="bold" stroke-width="0.00">55</text>
<text transform="translate(482.6,332.9) rotate(-90)" font-size="14.7" textLength="17.9" lengthAdjust="spacingAndGlyphs" font-weight="bold" stroke-width="0.00">500</text>
<text transform="translate(481.6,368.4) rotate(-90)" font-size="13.3" textLength="20.7" lengthAdjust="spacingAndGlyphs" font-weight="bold" stroke-width="0.00">1000</text>
<text transform="translate(482.0,410.9) rotate(-90)" font-size="13.9" textLength="21.6" lengthAdjust="spacingAndGlyphs" font-weight="bold" stroke-width="0.00">1000</text>
<text transform="translate(481.6,436.0) rotate(-90)" font-size="13.3" textLength="9.9" lengthAdjust="spacingAndGlyphs" font-weight="bold" stroke-width="0.00">55</text>
<line x1="579.6" y1="294.8" x2="578.0" y2="439.6" stroke-width="1.0"/>
<line x1="577.6" y1="308.3" x2="581.2" y2="304.7" stroke-width="1.0"/>
<line x1="540.3" y1="306.5" x2="601.9" y2="306.5" stroke-width="0.9"/>
<line x1="577.5" y1="311.3" x2="581.1" y2="307.7" stroke-width="1.0"/>
<line x1="542.2" y1="309.5" x2="582.5" y2="309.5" stroke-width="0.9"/>
<line x1="577.5" y1="315.6" x2="581.1" y2="312.0" stroke-width="1.0"/>
<line x1="540.0" y1="313.5" x2="582.5" y2="313.5" stroke-width="0.9"/>
<line x1="577.0" y1="360.4" x2="580.6" y2="356.8" stroke-width="1.0"/>
<line x1="538.5" y1="358.5" x2="582.5" y2="358.5" stroke-width="0.9"/>
<line x1="576.5" y1="405.1" x2="580.1" y2="401.5" stroke-width="1.0"/>
<line x1="538.5" y1="403.5" x2="582.5" y2="403.5" stroke-width="0.9"/>
<line x1="576.3" y1="423.8" x2="579.9" y2="420.2" stroke-width="1.0"/>
<line x1="541.0" y1="422.5" x2="582.5" y2="422.5" stroke-width="0.9"/>
<line x1="576.2" y1="429.3" x2="579.8" y2="425.7" stroke-width="1.0"/>
<line x1="538.5" y1="427.5" x2="601.9" y2="427.5" stroke-width="0.9"/>
<text transform="translate(576.0,302.9) rotate(-90)" font-size="12.0" textLength="10.8" lengthAdjust="spacingAndGlyphs" font-weight="bold" stroke-width="0.00">15</text>
<text transform="translate(576.0,319.1) rotate(-90)" font-size="11.1" textLength="9.7" lengthAdjust="spacingAndGlyphs" font-weight="bold" stroke-width="0.00">40</text>
<text transform="translate(575.4,343.7) rotate(-90)" font-size="12.7" textLength="20.3" lengthAdjust="spacingAndGlyphs" font-weight="bold" stroke-width="0.00">1000</text>
<text transform="translate(575.5,387.8) rotate(-90)" font-size="12.3" textLength="20.3" lengthAdjust="spacingAndGlyphs" font-weight="bold" stroke-width="0.00">1000</text>
<text transform="translate(575.8,419.1) rotate(-90)" font-size="13.0" textLength="16.2" lengthAdjust="spacingAndGlyphs" font-weight="bold" stroke-width="0.00">500</text>
<text transform="translate(575.0,441.1) rotate(-90)" font-size="13.3" textLength="10.4" lengthAdjust="spacingAndGlyphs" font-weight="bold" stroke-width="0.00">55</text>
<line x1="598.8" y1="304.5" x2="596.8" y2="430.5" stroke-width="1.0"/>
<line x1="596.9" y1="308.6" x2="600.5" y2="305.0" stroke-width="1.0"/>
<line x1="595.1" y1="429.4" x2="598.7" y2="425.8" stroke-width="1.0"/>
<text transform="translate(596.7,379.9) rotate(-90)" font-size="13.3" textLength="23.2" lengthAdjust="spacingAndGlyphs" font-weight="bold" stroke-width="0.00">2610</text>
<text x="478.8" y="283.3" font-size="12.1" textLength="28.8" lengthAdjust="spacingAndGlyphs" font-weight="normal" stroke-width="0.32">ТВ84</text>
<polyline points="476.8,285.5 505.7,285.5 526.4,313.3" stroke-width="1.0" fill="none"/>
<text x="542.7" y="284.8" font-size="12.1" textLength="19.1" lengthAdjust="spacingAndGlyphs" font-weight="bold" stroke-width="0.00">ПВ3</text>
<polyline points="564.7,286.5 539.8,286.5 532.9,299.3" stroke-width="1.0" fill="none"/>
<text x="547.0" y="329.1" font-size="10.4" textLength="18.1" lengthAdjust="spacingAndGlyphs" font-weight="bold" stroke-width="0.12">КВ17</text>
<polyline points="564.7,330.5 546.1,330.5 537.8,316.4" stroke-width="1.0" fill="none"/>
<text x="490.5" y="349.3" font-size="10.4" textLength="18.4" lengthAdjust="spacingAndGlyphs" font-weight="bold" stroke-width="0.10">КВ41</text>
<polyline points="489.9,350.5 508.3,350.5 527.4,318.7" stroke-width="1.0" fill="none"/>
<polyline points="508.8,350.8 524.9,332.3" stroke-width="1.0" fill="none"/>
<text x="543.2" y="349.7" font-size="11.3" textLength="17.5" lengthAdjust="spacingAndGlyphs" font-weight="bold" stroke-width="0.00">АВ2</text>
<polyline points="561.3,351.5 541.2,351.5 536.8,342.3" stroke-width="1.0" fill="none"/>
<text x="545.2" y="379.5" font-size="10.4" textLength="17.5" lengthAdjust="spacingAndGlyphs" font-weight="bold" stroke-width="0.15">ТВ19</text>
<polyline points="563.7,381.5 545.2,381.5 537.3,360.9" stroke-width="1.0" fill="none"/>
<polyline points="545.2,381.5 538.3,401.0" stroke-width="1.0" fill="none"/>
<text x="490.5" y="396.6" font-size="10.4" textLength="16.4" lengthAdjust="spacingAndGlyphs" font-weight="bold" stroke-width="0.00">КВ1</text>
<polyline points="488.9,397.5 508.5,397.5 525.1,376.4" stroke-width="1.0" fill="none"/>
<polyline points="508.5,397.6 534.9,387.4" stroke-width="1.0" fill="none"/>
<text x="485.6" y="445.8" font-size="10.4" textLength="27.2" lengthAdjust="spacingAndGlyphs" font-weight="bold" stroke-width="0.00">ПКВ51</text>
<polyline points="483.1,447.5 515.8,447.5 532.4,425.3" stroke-width="1.0" fill="none"/>
<text x="527.0" y="446.5" font-size="12.7" textLength="10.3" lengthAdjust="spacingAndGlyphs" font-weight="bold" stroke-width="0.00">70</text>
<line x1="521.4" y1="451.5" x2="539.7" y2="451.5" stroke-width="1.0"/>
<line x1="525.5" y1="425.3" x2="525.5" y2="453.4" stroke-width="0.9"/>
<line x1="534.5" y1="425.3" x2="534.5" y2="453.4" stroke-width="0.9"/>
<line x1="524.0" y1="452.6" x2="527.2" y2="449.4" stroke-width="1.0"/>
<line x1="533.3" y1="452.6" x2="536.5" y2="449.4" stroke-width="1.0"/>
</g>
</g>
</svg>
</body></html>
